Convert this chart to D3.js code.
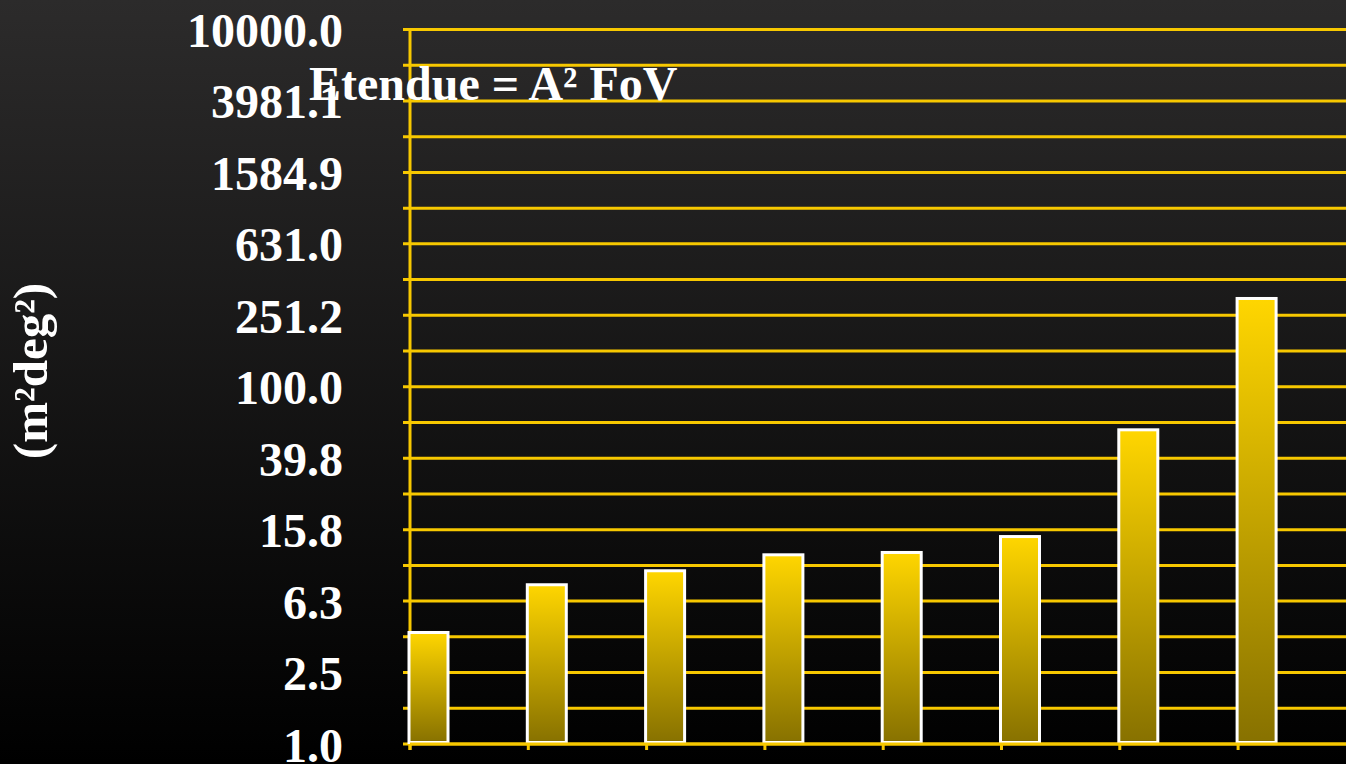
<!DOCTYPE html>
<html>
<head>
<meta charset="utf-8">
<script src="https://cdn.jsdelivr.net/npm/d3@7"></script>
<style>
  html, body { margin: 0; padding: 0; background: #000; }
  svg { display: block; }
  text { font-family: "Liberation Serif", "Times New Roman", serif; font-weight: bold; fill: #fff; }
</style>
</head>
<body>
<svg id="chart" width="1346" height="764"></svg>
<script>
// Instrument slots along the category axis
const categories = ["1", "2", "3", "4", "5", "6", "7", "8"];
// Etendue values (m² deg²)
const etendue = [4.21, 7.79, 9.33, 11.46, 11.81, 14.5, 57.4, 312];
// Labelled ticks on the logarithmic axis
const tickValues = [1, 2.512, 6.31, 15.85, 39.81, 100, 251.2, 631, 1584.9, 3981.1, 10000];
const tickLabels = ["1.0", "2.5", "6.3", "15.8", "39.8", "100.0", "251.2", "631.0", "1584.9", "3981.1", "10000.0"];
// Gridlines fall every fifth of a decade
const gridValues = [1, 1.585, 2.512, 3.981, 6.31, 10, 15.85, 25.12, 39.81, 63.1, 100,
  158.5, 251.2, 398.1, 631, 1000, 1584.9, 2511.9, 3981.1, 6309.6, 10000];

const W = 1346, H = 764;
const svg = d3.select("#chart");
const gold = "#f7c800";

const defs = svg.append("defs");
const bg = defs.append("linearGradient").attr("id", "bg")
  .attr("x1", 0).attr("y1", 0).attr("x2", 0).attr("y2", 1);
bg.append("stop").attr("offset", "0%").attr("stop-color", "#2c2b2b");
bg.append("stop").attr("offset", "100%").attr("stop-color", "#000000");

const barGrad = defs.append("linearGradient").attr("id", "barGrad")
  .attr("x1", 0).attr("y1", 0).attr("x2", 0).attr("y2", 1);
barGrad.append("stop").attr("offset", "0%").attr("stop-color", "#ffd600");
barGrad.append("stop").attr("offset", "100%").attr("stop-color", "#877100");

svg.append("rect").attr("width", W).attr("height", H).attr("fill", "url(#bg)");

const plotLeft = 410, plotTop = 29.5, plotBottom = 744;
const y = d3.scaleLog().domain([1, 10000]).range([plotBottom, plotTop]);
const x = d3.scaleBand().domain(categories).range([plotLeft, plotLeft + 8 * 118.3]).padding(0);

// Horizontal gridlines with short ticks left of the axis
svg.append("g").selectAll("line").data(gridValues).join("line")
  .attr("x1", plotLeft - 7).attr("x2", W)
  .attr("y1", d => y(d)).attr("y2", d => y(d))
  .attr("stroke", gold).attr("stroke-width", 3);

// Vertical axis line
svg.append("line")
  .attr("x1", plotLeft).attr("x2", plotLeft).attr("y1", plotTop - 1.5).attr("y2", plotBottom + 6)
  .attr("stroke", gold).attr("stroke-width", 3);

// Bars
svg.append("g").selectAll("rect").data(categories).join("rect")
  .attr("x", d => x(d) - 1)
  .attr("width", 39)
  .attr("y", (d, i) => y(etendue[i]))
  .attr("height", (d, i) => plotBottom - 1.5 - y(etendue[i]))
  .attr("fill", "url(#barGrad)")
  .attr("stroke", "#ffffff").attr("stroke-width", 3);

// Category axis baseline and ticks
svg.append("line")
  .attr("x1", plotLeft).attr("x2", W).attr("y1", plotBottom).attr("y2", plotBottom)
  .attr("stroke", gold).attr("stroke-width", 3);
svg.append("g").selectAll("line").data(categories).join("line")
  .attr("x1", d => x(d)).attr("x2", d => x(d))
  .attr("y1", plotBottom).attr("y2", plotBottom + 6)
  .attr("stroke", gold).attr("stroke-width", 3);

// Tick labels
svg.append("g").selectAll("text").data(tickValues).join("text")
  .attr("x", 343).attr("y", d => y(d) + 17.5)
  .attr("text-anchor", "end")
  .style("font-size", "48px")
  .text((d, i) => tickLabels[i]);

// Axis title
svg.append("text")
  .attr("transform", "translate(47,371) rotate(-90)")
  .attr("text-anchor", "middle")
  .style("font-size", "49px")
  .text("(m²deg²)");

// Chart heading
svg.append("text")
  .attr("x", 309).attr("y", 100)
  .style("font-size", "48px")
  .text("Etendue = A² FoV");
</script>
</body>
</html>
